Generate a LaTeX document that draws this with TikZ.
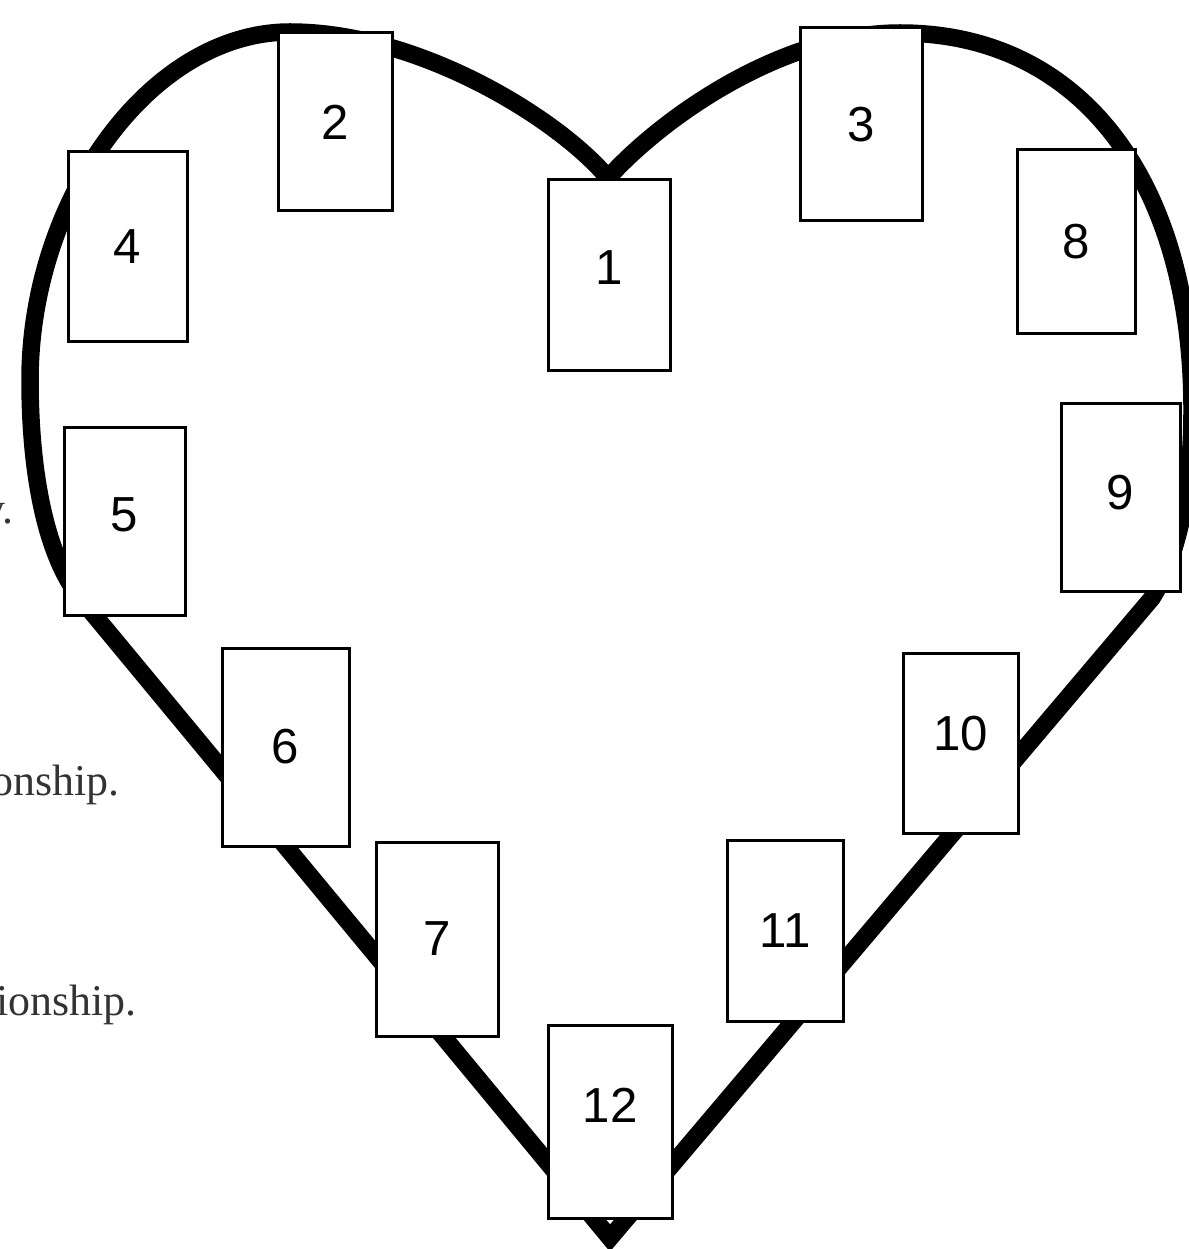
\documentclass[tikz,border=0pt]{standalone}
\usepackage{fontspec}
\setmainfont{Liberation Serif}
\newfontfamily\cardfont{Liberation Sans}
\usetikzlibrary{backgrounds}
\tikzset{
  % hjärta
  heart/.style={draw=black,line width=3.5mm,line join=miter},
  card/.style 2 args={rectangle,draw=black,fill=white,line width=0.6mm,inner sep=0pt,
             minimum width=#1*0.2mm,minimum height=#2*0.2mm,
             font=\cardfont\fontsize{28}{30}\selectfont},
  % text i marginalen
  frag/.style={anchor=base east,inner sep=0pt,text=black!80,
             font=\fontsize{25}{28}\selectfont},
}
\begin{document}
\begin{tikzpicture}[x=0.2mm,y=-0.2mm]
  \useasboundingbox (0,0) rectangle (1188,1249);
  \node[card={122}{190},text depth=2.8mm] (c1) at (609,275) {1};
  \node[card={114}{178}] (c2) at (335,122) {2};
  \node[card={122}{193}] (c3) at (861,124.5) {3};
  \node[card={119}{189}] (c4) at (127.5,246.5) {4};
  \node[card={121}{188},text depth=2.4mm] (c5) at (124.5,521) {5};
  \node[card={127}{198}] (c6) at (285.5,747) {6};
  \node[card={122}{194}] (c7) at (437,939) {7};
  \node[card={118}{183}] (c8) at (1076,241.5) {8};
  \node[card={119}{188},text depth=2mm] (c9) at (1120.5,497) {9};
  \node[card={115}{180},text depth=4mm] (c10) at (960.5,743) {10};
  \node[card={116}{181}] (c11) at (785,930.5) {11};
  \node[card={124}{193},text depth=6.4mm] (c12) at (610,1121.5) {12};
  \node[frag] (f1) at (14,523) {y.};
  \node[frag] (f2) at (120,795) {onship.};
  \node[frag] (f3) at (137,1015) {ionship.};
  \begin{scope}[on background layer]
  \draw[heart] (608,178) .. controls (560,120) and (420,32) .. (290,32)
    .. controls (150,32) and (30,200) .. (30,380)
    .. controls (30,460) and (42,550) .. (80,598)
    -- (610,1238) -- (1152,598)
    .. controls (1174,563) and (1192,500) .. (1192,410)
    .. controls (1192,180) and (1080,33) .. (900,33)
    .. controls (780,33) and (660,120) .. cycle;
  \end{scope}
\end{tikzpicture}
\end{document}
